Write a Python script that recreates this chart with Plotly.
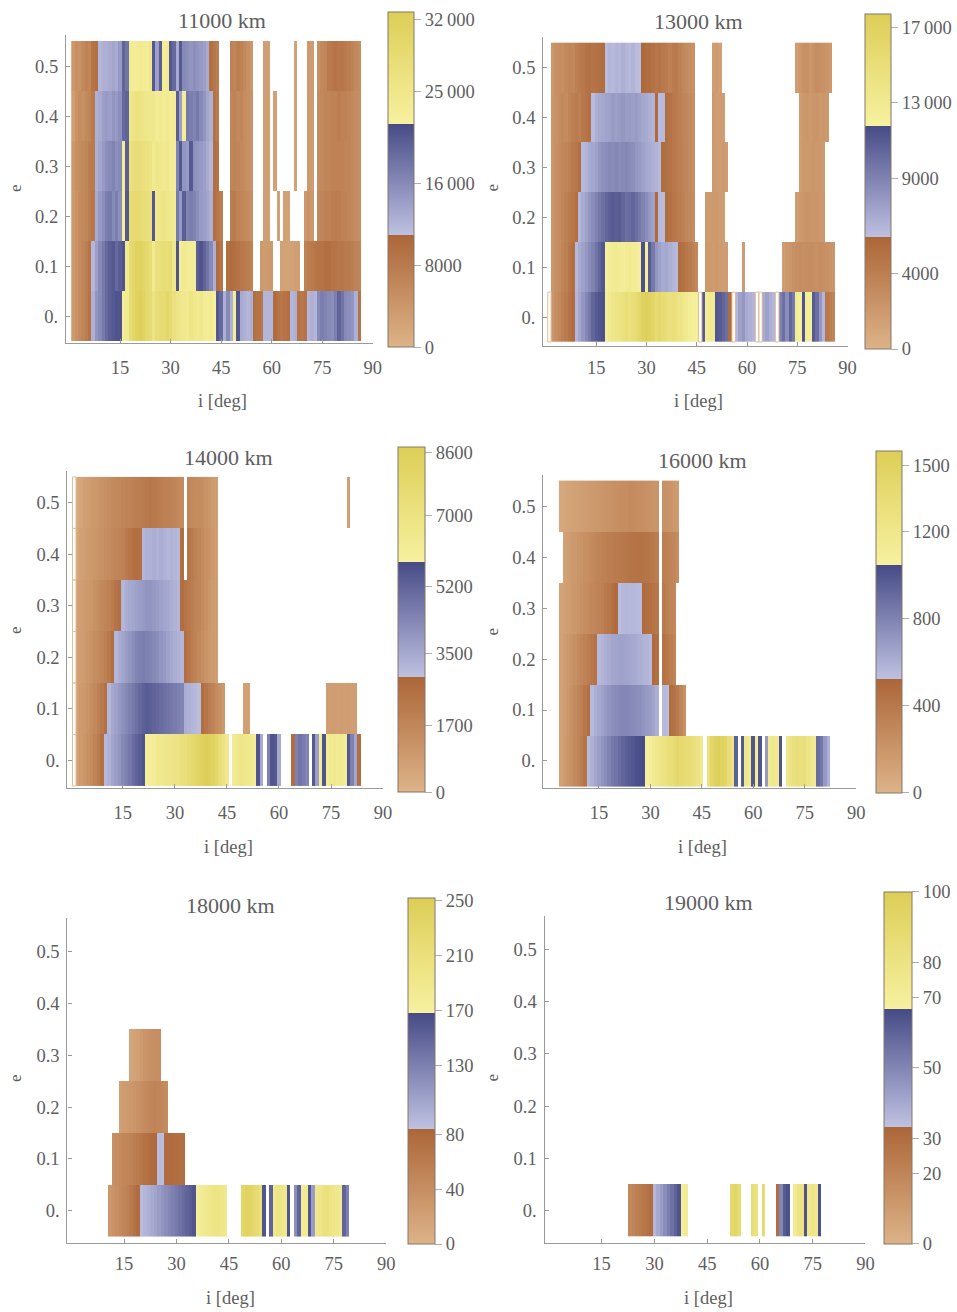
import plotly.graph_objects as go

_ = None
W, H = 957, 1312          # reference pixel frame used for all positions below
FIG_W = 967               # rendered figure width (compensates horizontal shrink)
N_BINS = 87
I_CENTERS = list(range(1, N_BINS + 1))
E_VALUES = [0.0, 0.1, 0.2, 0.3, 0.4, 0.5]
E_TICKTEXT = ["0.", "0.1", "0.2", "0.3", "0.4", "0.5"]
I_TICKVALS = [15, 30, 45, 60, 75, 90]

TITLES = ["11000 km", "13000 km", "14000 km", "16000 km", "18000 km", "19000 km"]
CMAX = [32700, 17700, 8730, 1570, 252, 100]
CB_TICKS = [
    [0, 8000, 16000, 25000, 32000],
    [0, 4000, 9000, 13000, 17000],
    [0, 1700, 3500, 5200, 7000, 8600],
    [0, 400, 800, 1200, 1500],
    [0, 40, 80, 130, 170, 210, 250],
    [0, 20, 30, 50, 70, 80, 100],
]
CB_LABELS = [
    ["0", "8000", "16\u2009000", "25\u2009000", "32\u2009000"],
    ["0", "4000", "9000", "13\u2009000", "17\u2009000"],
    ["0", "1700", "3500", "5200", "7000", "8600"],
    ["0", "400", "800", "1200", "1500"],
    ["0", "40", "80", "130", "170", "210", "250"],
    ["0", "20", "30", "50", "70", "80", "100"],
]

# Each row: (first i-bin, counts per 1-degree bin); rows for e = 0, 0.1, ..., 0.5
ROWS_11000 = [
    (1, [3500, 4500, 5500, 6500, 7500, 9000, 12500,
         15000, 16000, 17500, 19000, 20000, 20500, 21000, 21000, 23000, 24000,
         28500, 30000, 31500, 32500, 31000, 29500, 28500,
         26000, 28000, 29000, 28500, 30000, 29000, 27000, 26000,
         25000, 24500, 24000, 25500, 24500, 24000, 24500, 23500, 23000, 23500, 22500,
         20500, 19000, 12500, 16000, 12500, 23000, 21000,
         13000, 12500, 12000, 12500, 9500, 9000, 8500, 12000, 12000, 12000,
         10000, 9000, 8500, 9000, 9500, 12000, 12500, 9000, 8500, 9000,
         12000, 12500, 12000,
         16000, 17000, 16500, 16000, 15500, 17000, 19500, 18000, 16000, 15500,
         15000, 12500, 9000]),
    (1, [3500, 4500, 5500, 6500, 7500, 9000, 12000,
         14000, 16000, 17500, 19000, 20000, 20500, 19000, 20000, 21000, 24000,
         29000, 30000, 31000, 31500, 30500, 29500, 28000,
         24000, 27000, 27500, 28000, 27500, 28500, 25000, 21000,
         23000, 24000, 23500, 23000, 23000, 20000, 21000, 19500, 18000, 16000, 12500,
         10000, 9000, _,
         9500, 10000, 9500, 9000, 8500, 8000, 7500, 7000, _, _,
         3500, 3200, 3500, 3800, _, _,
         2500, 2200, 2200, 2500, 3000, 2800, _,
         7000, 7500, 8000, 8500, 9000, 9000, 9500, 9500, 9000, 9000, 8500,
         8500, 8000, 8000, 7500, 7000, 6500]),
    (1, [3500, 4500, 5500, 6000, 6500, 7500, 8500,
         13000, 14500, 15500, 17000, 17500, 16000, 17000, 15500, 22500, 20500,
         28500, 29000, 29000, 28500, 28000, 27500, 27000, 20500,
         24500, 25500, 26000, 25000, 24500, 24000, 17500, 14500, 20000,
         16500, 17000, 16500, 15500, 14500, 14000, 13500, 12500,
         9500, 8500, 7500, _, _,
         7500, 8000, 7000, 6500, 6000, 5500, 5000, _, _, _,
         3000, 2800, _, _, 2500, _, 2200, 2200, _, _, _, _,
         4000, 4500, 4000, _,
         6000, 6500, 7000, 7000, 7500, 7500, 7500, 7000, 7000, 6500, 6000, 5500, 5000]),
    (1, [4000, 5000, 5500, 6000, 6500, 7500, 8000,
         12500, 13500, 14500, 15500, 16000, 16500, 15500, 16000, 23000, 20000,
         27000, 27500, 28000, 27500, 27000, 26500, 26000,
         24000, 25000, 24500, 24000, 24500, 23500, 23000,
         16500, 20500, 15000, 14500, 20500, 15500, 15000, 14500, 14000, 13000, 12000,
         9500, 9000, _, _, _,
         6500, 7000, 6500, 6000, 5500, 5000, 4500, _, _, _,
         3000, 2800, _, 2500, _, _, _, _, _, 2500, _, _, _, 3500, 3200, _,
         5500, 6000, 6500, 6500, 7000, 7000, 7000, 7000, 6500, 6500, 6000, 5500, 5000]),
    (1, [3000, 4500, 5500, 5000, 6000, 6500, 8000,
         12500, 13000, 14000, 14500, 14000, 15000, 14500, 15500, 19000, 19500,
         25000, 26000, 26500, 26000, 25500, 25000, 24500, 25000,
         23500, 24000, 23500, 24000, 23000, 23500, 20000, 14000, 23000,
         17500, 17000, 16500, 17500, 16000, 15000, 13500, 12500,
         9000, 8000, _, _, _,
         6500, 7000, 6000, 6500, 5500, 5000, 4500, _, _, _,
         3000, 2800, _, 2500, _, _, _, _, _, 2500, _, _, _, 3500, 3200, _,
         5500, 6000, 6500, 6500, 7000, 7000, 7500, 7000, 7000, 6500, 6000, 5500, 5000]),
    (1, [4000, 5000, 4500, 6000, 7000, 6500, 9000, 9500,
         12000, 12500, 12500, 13000, 13500, 13000, 14500, 19500, 18000,
         23500, 23000, 23500, 24000, 23500, 23000, 24500, 20500,
         14000, 20000, 23000, 23500, 20500, 19000, 13000, 20500,
         16000, 15500, 15000, 15500, 15000, 14500, 14000, 13000,
         9500, 8500, 7500, _, _, _,
         7000, 6500, 7500, 7000, 6000, 5000, 4000, _, _, _,
         3000, 2800, _, _, _, _, _, _, _, 2500, _, _, _, 3500, 3200, _,
         5000, 6000, 6500, 8000, 8500, 9000, 8500, 8500, 8000, 7500, 7000, 6000, 5500]),
]

ROWS_13000 = [
    (2, [2200, 2800, 3300, 3800, 4200, 4800, 5400,
         6500, 7200, 8000, 8800, 9500, 10500, 11000, 11300, 11500,
         12500, 13000, 13500, 14000, 14000, 14500, 15000, 14500, 15000, 15500,
         16000, 17000, 17500, 17000, 16500, 15500, 16000, 15500, 15000, 14500,
         15000, 14500, 14000, 13500, 13000, 12500, 12300, 12200,
         _, 11000, 12500, 13000, 12800, 11200, 11000, 10500, 10000, 5400, _,
         6500, 7500, 8000, 7000, 6800, 6500, _, _, 7000, 7500, 6800, 6500, _,
         9000, 10000, 8500, 10500, 9500, 12500, 12000, 11300, 12500, 12200,
         11000, 10000, 8000, 6500, 4500, 4000, 3500]),
    (2, [2200, 2600, 3000, 3500, 4000, 4600, 5200,
         6300, 7000, 7500, 8000, 8500, 9000, 9800, 10500, 11200,
         12200, 12500, 12800, 13000, 12600, 12400, 12800, 13000, 12700, 12500, 12300,
         11500, 12200, 11000, 9500, 8000, 7500, 7000, 7200, 6800, 6500, 6300,
         5400, 5000, 4600, 4200, 3800, 3300, _, _,
         2000, 1900, 1800, 2000, 1800, 1700, 1800, _, _, _, _, 1800,
         _, _, _, _, _, _, _, _, _, _, _,
         1700, 2000, 2200, 2500, 2700, 2900, 2700, 2900, 3000, 2900, 2700, 2900,
         2800, 2600, 2400, 2200]),
    (2, [2200, 2600, 3000, 3400, 3800, 4300, 4700, 5200,
         6500, 7000, 7500, 8000, 8500, 9000, 9500, 10000, 10500, 10800,
         11000, 10800, 11000, 10500, 10000, 10200, 10500, 10000, 9500, 9000,
         8500, 8000, 7500, 5500, 6300, 6200,
         5400, 5000, 4700, 4400, 4100, 3800, 3500, 3200, 2900, _, _, _,
         1900, 1800, 1900, 2000, 1800, 1600,
         _, _, _, _, _, _, _, _, _, _, _, _, _, _, _, _, _, _, _, _, _,
         1800, 2100, 2200, 2400, 2300, 2200, 2300, 2100, 2000]),
    (2, [2200, 2600, 3000, 3300, 3500, 3800, 4300, 4700, 5200,
         6300, 6600, 7000, 7200, 7500, 8000, 8300, 8500, 8700, 8600, 8800, 8500,
         8700, 8800, 8600, 8400, 8000, 7800, 7500, 7200, 7000, 6800, 6600, 6300,
         5400, 5100, 4800, 4500, 4200, 3900, 3700, 3400, 3100, 2800, _, _, _, _, _,
         1900, 1800, 1700, 1900, 1800,
         _, _, _, _, _, _, _, _, _, _, _, _, _, _, _, _, _, _, _, _, _,
         1700, 2000, 2100, 2000, 2200, 2100, 2000, 1900]),
    (2, [2200, 2500, 2900, 3200, 3000, 3500, 3900, 4200, 3900, 4500, 4800, 5100,
         6200, 6800, 7000, 7200, 7400, 7500, 7800, 7600, 7800, 8000, 7700, 7800,
         7600, 7800, 7500, 7200, 7000, 6800, 6600, 5500, 6200, 6300,
         5300, 4900, 4500, 4200, 3900, 3600, 3400, 3100, 2800, _, _, _, _, _,
         1900, 1700, 1800, 1600,
         _, _, _, _, _, _, _, _, _, _, _, _, _, _, _, _, _, _, _, _, _, _,
         1700, 2000, 2200, 2100, 2200, 2300, 2100, 2200, 2000]),
    (2, [2200, 2600, 2900, 2700, 3200, 3500, 3300, 3900, 4200, 4500, 4900, 5000,
         4800, 5000, 5200, 5400,
         6200, 6500, 6300, 6600, 6400, 6800, 6500, 6300, 6600, 6200, 6100,
         5600, 5300, 5400, 5000, 4600,
         4800, 4500, 4200, 3800, 4200, 4400, 3800, 3400, 3100, 2800, 2500,
         _, _, _, _, _, 1700, 1900, 1500,
         _, _, _, _, _, _, _, _, _, _, _, _, _, _, _, _, _, _, _, _, _, _,
         1700, 2200, 2500, 2700, 2200, 2500, 2900, 2700, 2500, 2300, 2100]),
]

ROWS_14000 = [
    (2, [700, 900, 1100, 1300, 1500, 1800, 2100, 2500,
         3100, 3300, 3600, 3800, 4000, 4300, 4500, 4700, 5000, 5200, 5400, 5600,
         6000, 6100, 6200, 6400, 6500, 6600, 6700, 6800, 6900, 7000, 7200, 7400,
         7600, 7800, 8000, 8200, 8500, 8700, 8600, 8400, 8000, 7500, 7000, 6500,
         _, 6300, 6600, 6800, 6700, 6600, 6400, 6200, 5600, 3500, _,
         4500, 5600, 5500, 3500, _, _, _, 2600, 4500, 4800, 4600, 4400, _,
         5500, 3800, 6200, 5600, 6200, 6400, 6500, 6300, 6400, 6200,
         5500, 4500, 3600, 2600]),
    (2, [700, 900, 1000, 1200, 1400, 1600, 1900, 2200, 2500,
         3200, 3500, 3700, 3900, 4100, 4300, 4500, 4700, 4900, 5100, 5300, 5400,
         5300, 5200, 5100, 5000, 4900, 4800, 4700, 4600, 4500, 4400,
         3400, 3300, 3200, 3100, 3000,
         2600, 2300, 2000, 1800, 1500, 1300, 1000, _, _, _, _, _, 700, 700,
         _, _, _, _, _, _, _, _, _, _, _, _, _, _, _, _, _, _, _, _, _, _,
         800, 850, 850, 800, 850, 800, 850, 800, 800]),
    (2, [700, 800, 900, 1100, 1200, 1400, 1500, 1700, 1900, 2200, 2600,
         3200, 3400, 3600, 3800, 4000, 4200, 4400, 4500, 4600, 4500, 4400, 4300,
         4200, 4000, 3900, 3700, 3500, 3400, 3300, 3200,
         2600, 2300, 2000, 1800, 1600, 1400, 1200, 1000, 900, 800]),
    (2, [700, 800, 900, 1000, 1100, 1300, 1400, 1600, 1700, 1900, 2100, 2400, 2600,
         3200, 3400, 3500, 3600, 3700, 3800, 3900, 4000, 4000, 3900, 3800, 3700,
         3600, 3500, 3400, 3300, 3200,
         2600, 2400, 2200, 2000, 1800, 1700, 1500, 1300, 1100, 900, 800]),
    (2, [500, 700, 800, 900, 1000, 1100, 1200, 1300, 1400, 1500, 1600, 1700,
         1800, 1900, 2100, 2300, 2500, 2600, 2500,
         3200, 3300, 3300, 3400, 3300, 3400, 3300, 3200, 3300, 3200, 3100,
         2600, _, 2300, 2100, 1900, 1700, 1500, 1300, 1200, 1000, 800]),
    (2, [400, 500, 700, 800, 900, 1000, 1100, 1200, 1300, 1400, 1500, 1600,
         1600, 1700, 1800, 1800, 1900, 2000, 2000, 2100, 2200, 2300, 2200, 2100,
         2000, 1900, 1900, 1800, 1700, 1600, 1500,
         _, 1700, 1600, 1500, 1500, 1400, 1200, 1100, 900, 800,
         _, _, _, _, _, _, _, _, _, _, _, _, _, _, _, _, _, _, _, _, _, _, _, _,
         _, _, _, _, _, _, _, _, _, _, _, _, _, 700]),
]

ROWS_16000 = [
    (4, [120, 160, 200, 240, 280, 320, 370, 430,
         560, 600, 640, 680, 720, 760, 800, 840, 870, 900, 930, 960, 980, 1000,
         1020, 1030, 1040,
         1060, 1100, 1140, 1180, 1220, 1260, 1300, 1340, 1380, 1420, 1400, 1380,
         1360, 1340, 1300, 1250, 1150,
         _, 1300, 1450, 1520, 1550, 1500, 1450, 1350, 1250, 950, _, 980,
         1200, 1150, 1000, 1100, 1000, _, 700, 1150, 1200, 1150, 1000, _,
         1200, 1250, 1300, 1350, 1300, 1320, 1250, 1200, 1150, 900, 850, 700, 600]),
    (4, [120, 150, 190, 230, 270, 310, 350, 400, 450,
         560, 600, 630, 660, 690, 720, 740, 760, 770, 780, 780, 770, 760, 750,
         740, 720, 700, 680, 650, 600,
         _, 560, 540, 470, 430, 380, 320, 230]),
    (4, [120, 150, 180, 210, 240, 270, 300, 330, 360, 400, 440,
         560, 580, 600, 620, 640, 650, 660, 660, 650, 640, 630, 620, 600, 590,
         580, 560, 490, 460, _, 430, 400, 360, 320]),
    (4, [110, 130, 150, 170, 190, 210, 230, 250, 270, 290, 310, 330, 350, 380,
         410, 450, 490, 540, 560, 570, 560, 570, 560, 550,
         490, 470, 450, 430, 410, _, 380, 350, 320, 290]),
    (5, [120, 140, 160, 180, 200, 220, 240, 260, 280, 300, 320, 340, 350, 360,
         370, 380, 390, 400, 410, 420, 430, 440, 440, 430, 420, 410, 390, 370,
         _, 360, 340, 320, 290, 260]),
    (4, [80, 90, 100, 110, 120, 130, 140, 150, 160, 170, 180, 190, 200, 210,
         220, 230, 240, 250, 260, 260, 270, 270, 260, 250, 240, 230, 220, 210, 200,
         _, 230, 220, 200, 180, 160]),
]

ROWS_18000 = [
    (11, [30, 35, 40, 45, 50, 55, 62, 70, 78,
          88, 92, 96, 100, 105, 110, 115, 120, 125, 130, 135, 140, 145, 150, 155, 160,
          175, 180, 185, 190, 195, 200, 200, 195, 190, _, _, _, _,
          230, 240, 235, 225, 220, 210, 160, _, 150, 190, 200, 195, 190,
          160, _, 120, 150, 180, 185, 160, 110,
          190, 195, 205, 210, 200, 195, 190, 185, 150, 130]),
    (12, [38, 42, 45, 48, 50, 54, 58, 62, 66, 70, 74, 77, 80, 88, 87,
          78, 77, 76, 75, 74, 73]),
    (14, [22, 25, 28, 30, 33, 36, 40, 44, 47, 50, 52, 50, 47, 44]),
    (17, [15, 18, 22, 28, 33, 36, 38, 40, 40]),
    (1, []),
    (1, []),
]

ROWS_19000 = [
    (23, [18, 20, 22, 24, 26, 28, 30, 36, 40, 44, 48, 52, 56, 60, 64, 70, 72,
          _, _, _, _, _, _, _, _, _, _, _, _,
          90, 92, 88, _, _, _, 85, 82, _, 88, _, _, _, 30, 50, 62, 65, _,
          72, 78, 80, 64, 75, 78, 76, 65]),
    (1, []), (1, []), (1, []), (1, []), (1, []),
]

PANEL_ROWS = [ROWS_11000, ROWS_13000, ROWS_14000, ROWS_16000, ROWS_18000, ROWS_19000]

# Near-empty cells drawn only as outlines: (panel index, i-bin, e)
OUTLINE_CELLS = [
    (1, 1, 0.0), (1, 46, 0.0), (1, 56, 0.0), (1, 63, 0.0), (1, 64, 0.0), (1, 69, 0.0),
    (2, 1, 0.0), (2, 1, 0.1), (2, 1, 0.2), (2, 1, 0.3), (2, 1, 0.4), (2, 1, 0.5),
]

# Layout (pixel boxes of each plot frame: left, right, top, bottom) and axis ranges
PLOT_BOX = [
    (66.0, 372.3, 35.0, 342.7),
    (542.7, 846.7, 36.7, 346.0),
    (67.3, 382.7, 471.0, 788.0),
    (542.7, 855.3, 475.0, 788.0),
    (67.3, 385.8, 918.3, 1242.7),
    (544.0, 864.5, 916.0, 1242.7),
]
X_MIN = [-1.04, -0.84, -0.98, -1.23, -1.23, -1.22]
Y_RANGE = [(-0.053, 0.562), (-0.058, 0.562), (-0.0538, 0.5615),
           (-0.053, 0.561), (-0.0616, 0.564), (-0.0617, 0.564)]
X_LABEL_STANDOFF = [8, 5, 8, 8, 4, 4]
CB_BOX = [
    (387.3, 413.3, 12.3, 347.7),
    (864.5, 890.5, 14.0, 349.0),
    (397.7, 424.3, 447.3, 792.3),
    (875.0, 901.0, 450.7, 792.7),
    (408.0, 435.0, 898.0, 1244.0),
    (882.7, 910.0, 891.7, 1243.3),
]
TITLE_POS = [(222, 21), (698, 22), (228, 457), (702, 461), (230, 905), (708, 902)]
XLABEL_POS = [(222, 401), (698, 401), (228, 847), (702, 847), (230, 1298), (708, 1298)]
YLABEL_POS = [(15, 188), (491, 188), (15, 630), (491, 632), (15, 1078), (491, 1078)]

FONT = "Liberation Serif, Times New Roman, serif"
TEXT = "#5e5e5e"
AXIS = "#9a9a9a"

SCALE = [
    [0.0, "#DDB388"], [1 / 3, "#AC6638"],
    [1 / 3, "#BFC1E2"], [2 / 3, "#464B86"],
    [2 / 3, "#F7F1A0"], [1.0, "#DDCE57"],
]


def expand(start, vals):
    row = [None] * N_BINS
    for k, v in enumerate(vals):
        row[start - 1 + k] = v
    return row


fig = go.Figure()
layout = dict(width=FIG_W, height=H, margin=dict(l=0, r=0, t=0, b=0), autosize=False,
              paper_bgcolor="white", plot_bgcolor="white", showlegend=False,
              font=dict(family=FONT, color=TEXT))
annotations = []
shapes = []
KX = FIG_W / W

for p in range(6):
    z = [expand(s, v) for s, v in PANEL_ROWS[p]]
    sfx = "" if p == 0 else str(p + 1)
    fig.add_trace(go.Heatmap(
        x=I_CENTERS, y=E_VALUES, z=z, coloraxis="coloraxis" + sfx,
        xaxis="x" + sfx, yaxis="y" + sfx, hoverongaps=False))

    x0, x1, y0, y1 = PLOT_BOX[p]
    layout["xaxis" + sfx] = dict(
        domain=[x0 / W, x1 / W], range=[X_MIN[p], 90], anchor="y" + sfx,
        showline=True, linecolor=AXIS, linewidth=1.3, mirror=False,
        ticks="inside", ticklen=4, tickwidth=1, tickcolor=AXIS,
        tickvals=I_TICKVALS, showgrid=False, zeroline=False,
        tickfont=dict(family=FONT, size=18.5, color=TEXT),
        ticklabelstandoff=X_LABEL_STANDOFF[p])
    layout["yaxis" + sfx] = dict(
        domain=[1 - y1 / H, 1 - y0 / H], range=list(Y_RANGE[p]), anchor="x" + sfx,
        showline=True, linecolor=AXIS, linewidth=1.3, mirror=False,
        ticks="inside", ticklen=4, tickwidth=1, tickcolor=AXIS,
        tickvals=E_VALUES, ticktext=E_TICKTEXT, showgrid=False, zeroline=False,
        tickfont=dict(family=FONT, size=18.5, color=TEXT), ticklabelstandoff=3)

    cx0, cx1, cy0, cy1 = CB_BOX[p]
    layout["coloraxis" + sfx] = dict(
        cmin=0, cmax=CMAX[p], colorscale=SCALE,
        colorbar=dict(
            x=cx0 / W, xanchor="left", y=1 - cy0 / H, yanchor="top",
            len=cy1 - cy0, lenmode="pixels", thickness=(cx1 - cx0) * KX,
            thicknessmode="pixels", xpad=0, ypad=0,
            outlinecolor="#85776a", outlinewidth=1,
            tickvals=CB_TICKS[p], ticktext=CB_LABELS[p],
            ticks="outside", ticklen=7, tickcolor="#b0b0b0",
            tickfont=dict(family=FONT, size=18.5, color=TEXT)))

    tx, ty = TITLE_POS[p]
    annotations.append(dict(x=tx / W, y=1 - ty / H, xref="paper", yref="paper",
                            text=TITLES[p], showarrow=False,
                            font=dict(family=FONT, size=22, color=TEXT),
                            xanchor="center", yanchor="middle"))
    lx, ly = XLABEL_POS[p]
    annotations.append(dict(x=lx / W, y=1 - ly / H, xref="paper", yref="paper",
                            text="i [deg]", showarrow=False,
                            font=dict(family=FONT, size=18.5, color=TEXT),
                            xanchor="center", yanchor="middle"))
    ex, ey = YLABEL_POS[p]
    annotations.append(dict(x=ex / W, y=1 - ey / H, xref="paper", yref="paper",
                            text="e", showarrow=False, textangle=-90,
                            font=dict(family=FONT, size=17, color=TEXT),
                            xanchor="center", yanchor="middle"))

for p, ib, ev in OUTLINE_CELLS:
    sfx = "" if p == 0 else str(p + 1)
    shapes.append(dict(type="rect", xref="x" + sfx, yref="y" + sfx,
                       x0=ib - 0.5, x1=ib + 0.5, y0=ev - 0.05, y1=ev + 0.05,
                       line=dict(color="#E2BF9A", width=1), fillcolor="rgba(0,0,0,0)",
                       layer="above"))

layout["annotations"] = annotations
layout["shapes"] = shapes
fig.update_layout(**layout)
fig.write_html("out.html", config={"displayModeBar": False})
